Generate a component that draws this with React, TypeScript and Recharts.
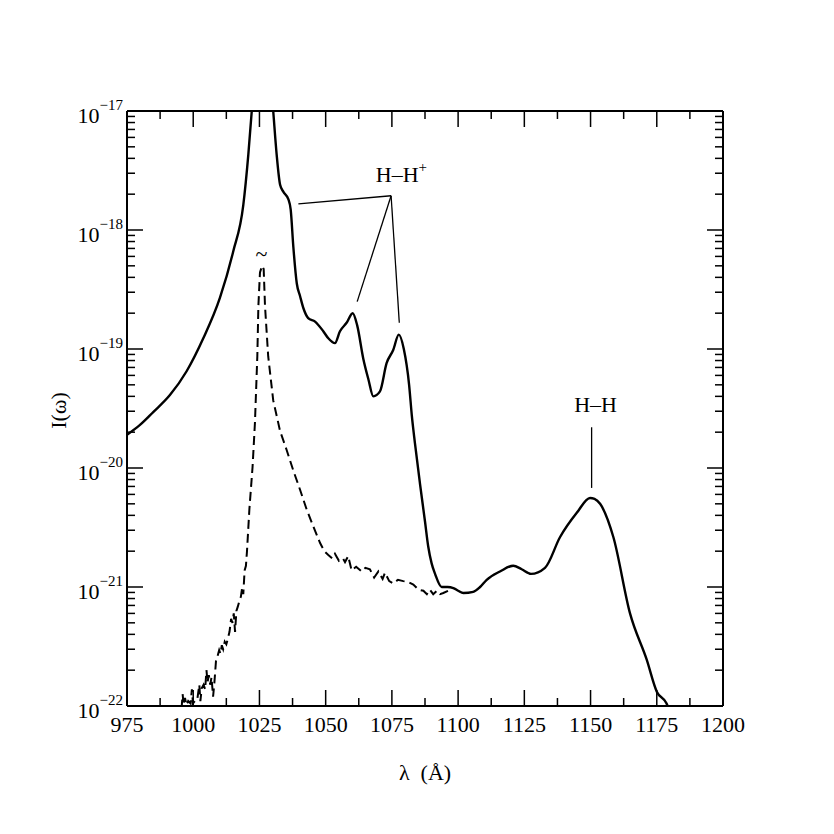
import React from 'react';
import { LineChart, Line, XAxis, YAxis, ReferenceLine, ReferenceDot } from 'recharts';

// ---- data ----
const solidX = [975, 979.9, 984.9, 991.2, 997.5, 1003.8, 1010.1, 1015.1, 1018.9, 1020.8, 1022.1, 1023.5, 1026, 1028.5, 1030.2, 1031.5, 1032.8, 1034.0, 1035.9, 1036.8, 1037.8, 1039.1, 1040.3, 1041.6, 1043.4, 1046.0, 1049.1, 1051.0, 1053.5, 1055.4, 1057.9, 1060.2, 1061.9, 1064.2, 1066.1, 1068.0, 1070.5, 1073.0, 1075.5, 1077.6, 1079.5, 1081.5, 1082.5, 1083.7, 1085.6, 1087.5, 1088.7, 1090.0, 1091.3, 1093.8, 1096, 1098.2, 1100, 1102.0, 1105.7, 1108.3, 1110.8, 1115.8, 1120.8, 1124, 1127.5, 1132.8, 1138.5, 1144.8, 1149.8, 1151.5, 1153.6, 1158.6, 1164.9, 1171.2, 1175.0, 1178.7, 1179.5];
const solidY = [1.9e-20, 2.3e-20, 2.95e-20, 4.1e-20, 6.5e-20, 1.23e-19, 2.7e-19, 6.6e-19, 1.62e-18, 4.3e-18, 1.0e-17, 3e-17, 8e-17, 3e-17, 1.0e-17, 4.3e-18, 2.4e-18, 2.1e-18, 1.82e-18, 1.48e-18, 7.2e-19, 3.55e-19, 2.8e-19, 2.2e-19, 1.82e-19, 1.7e-19, 1.41e-19, 1.23e-19, 1.12e-19, 1.41e-19, 1.66e-19, 2.0e-19, 1.58e-19, 8.3e-20, 5.6e-20, 4.0e-20, 4.4e-20, 7.6e-20, 9.8e-20, 1.32e-19, 1.0e-19, 5.0e-20, 2.8e-20, 1.62e-20, 7.4e-21, 3.55e-21, 2.2e-21, 1.58e-21, 1.29e-21, 1.0e-21, 1.0e-21, 9.8e-22, 9.3e-22, 8.9e-22, 9.1e-22, 1.0e-21, 1.15e-21, 1.35e-21, 1.51e-21, 1.41e-21, 1.29e-21, 1.45e-21, 2.63e-21, 4.2e-21, 5.6e-21, 5.5e-21, 5.0e-21, 2.63e-21, 6.0e-22, 2.45e-22, 1.32e-22, 1.05e-22, 9.5e-23];

const dashedX = [995.6, 996.0, 996.4, 996.9, 997.4, 998.1, 999.0, 999.5, 999.9, 1000.6, 1001.5, 1002.3, 1002.7, 1003.2, 1003.9, 1004.5, 1005.0, 1005.4, 1005.9, 1006.4, 1006.9, 1007.5, 1008.0, 1008.6, 1009.2, 1009.8, 1010.3, 1010.8, 1011.3, 1011.9, 1012.5, 1013.1, 1013.7, 1014.3, 1014.8, 1015.3, 1015.8, 1016.3, 1016.8, 1017.4, 1018.0, 1018.5, 1018.9, 1019.4, 1019.9, 1020.3, 1021.2, 1022.4, 1023.3, 1024.2, 1024.6, 1025.2, 1026.0, 1026.6, 1027.1, 1028.3, 1030.2, 1032.8, 1035.3, 1037.8, 1040.3, 1042.8, 1045.3, 1047.9, 1049.5, 1051.0, 1052.5, 1053.5, 1055.0, 1056.5, 1057.3, 1058.5, 1059.8, 1061.5, 1063.6, 1065.0, 1066.7, 1068.3, 1069.9, 1071.5, 1072.4, 1074.0, 1075.5, 1077.3, 1079.3, 1081.2, 1083.1, 1085.0, 1086.9, 1088.2, 1089.3, 1090.6, 1092.0, 1093.2, 1094.4, 1096.3];
const dashedY = [9.5e-23, 1.26e-22, 1.02e-22, 1.17e-22, 1.02e-22, 1.1e-22, 1.05e-22, 1.38e-22, 1.05e-22, 1.1e-22, 1.12e-22, 1.51e-22, 1.1e-22, 1.41e-22, 1.51e-22, 1.38e-22, 2.0e-22, 1.58e-22, 1.82e-22, 1.51e-22, 1.74e-22, 1.2e-22, 1.58e-22, 2.4e-22, 2.63e-22, 2.95e-22, 2.75e-22, 3.24e-22, 3.0e-22, 3.47e-22, 3.3e-22, 3.7e-22, 4.2e-22, 5.4e-22, 5.0e-22, 6.0e-22, 4.2e-22, 6.3e-22, 6.8e-22, 7.6e-22, 8.3e-22, 1.0e-21, 8.7e-22, 1.38e-21, 1.51e-21, 2.0e-21, 4.5e-21, 1.02e-20, 2.4e-20, 8.7e-20, 2.3e-19, 4.4e-19, 5.0e-19, 4.7e-19, 2.3e-19, 8.7e-20, 3.7e-20, 2.04e-20, 1.41e-20, 9.5e-21, 6.6e-21, 4.5e-21, 3.24e-21, 2.34e-21, 2.0e-21, 1.86e-21, 1.74e-21, 1.9e-21, 1.66e-21, 1.74e-21, 1.62e-21, 1.82e-21, 1.38e-21, 1.48e-21, 1.35e-21, 1.45e-21, 1.41e-21, 1.2e-21, 1.35e-21, 1.17e-21, 1.32e-21, 1.12e-21, 1.07e-21, 1.15e-21, 1.12e-21, 1.1e-21, 1.05e-21, 9.5e-22, 9.3e-22, 8.7e-22, 9.5e-22, 8.7e-22, 9.3e-22, 8.7e-22, 8.9e-22, 9.3e-22];

const xTicks = [975, 987.5, 1000, 1012.5, 1025, 1037.5, 1050, 1062.5, 1075, 1087.5, 1100, 1112.5, 1125, 1137.5, 1150, 1162.5, 1175, 1187.5, 1200];
const xMajorTicks = [975, 1000, 1025, 1050, 1075, 1100, 1125, 1150, 1175, 1200];
const yMajorTicks = [1e-22, 1e-21, 1e-20, 1e-19, 1e-18, 1e-17];
const yMajorLabels = ['−22', '−21', '−20', '−19', '−18', '−17'];
const yMinorMultipliers = [2, 3, 4, 5, 6, 7, 8, 9];

// annotations (data coordinates)
const hhPlusApex = { x: 1074.7, y: 1.94e-18 };
const hhPlusTargets = [
  { x: 1039.7, y: 1.66e-18 },
  { x: 1061.9, y: 2.5e-19 },
  { x: 1077.8, y: 1.66e-19 },
];
const hhPlusLabel = { x: 1078.6, y: 2.55e-18, text: 'H–H', sup: '+' };
const hhLine = [{ x: 1150.4, y: 2.2e-20 }, { x: 1150.4, y: 6.8e-21 }];
const hhLabel = { x: 1151.9, y: 2.96e-20, text: 'H–H' };
const tildeLabel = { x: 1025.8, y: 6.3e-19, text: '~' };

const solidData = solidX.map((x, i) => ({ x, y: solidY[i] }));
const dashedData = dashedX.map((x, i) => ({ x, y: dashedY[i] }));
const yTicks: number[] = [];
yMajorTicks.forEach((m, i) => {
  yTicks.push(m);
  if (i < yMajorTicks.length - 1) yMinorMultipliers.forEach((k) => yTicks.push(k * m));
});

const FONT = "'Liberation Serif', 'DejaVu Serif', serif";
const isYMajor = (v: number) => yMajorTicks.some((m) => Math.abs(v / m - 1) < 1e-6);

const YTickLeft = (props: any) => {
  const { x, y, payload } = props;
  const idx = yMajorTicks.findIndex((m) => Math.abs(payload.value / m - 1) < 1e-6);
  const major = idx >= 0;
  return (
    <g>
      <line x1={x} y1={y} x2={x + (major ? 16 : 8)} y2={y} stroke="#000" strokeWidth={1.5} />
      {major && (
        <text x={x - 4} y={y + 12} textAnchor="end" fontFamily={FONT} fontSize={22} fill="#000">
          10<tspan dy={-13} fontSize={15}>{yMajorLabels[idx]}</tspan>
        </text>
      )}
    </g>
  );
};
const YTickRight = (props: any) => {
  const { x, y, payload } = props;
  const major = isYMajor(payload.value);
  return <line x1={x} y1={y} x2={x - (major ? 16 : 8)} y2={y} stroke="#000" strokeWidth={1.5} />;
};
const XTickBottom = (props: any) => {
  const { x, y, payload } = props;
  const major = xMajorTicks.includes(payload.value);
  return (
    <g>
      <line x1={x} y1={y} x2={x} y2={y - (major ? 16 : 8)} stroke="#000" strokeWidth={1.5} />
      {major && (
        <text x={x} y={y + 26} textAnchor="middle" fontFamily={FONT} fontSize={22} fill="#000">
          {payload.value}
        </text>
      )}
    </g>
  );
};
const XTickTop = (props: any) => {
  const { x, y, payload } = props;
  const major = xMajorTicks.includes(payload.value);
  return <line x1={x} y1={y} x2={x} y2={y + (major ? 16 : 8)} stroke="#000" strokeWidth={1.5} />;
};

const textShape = (text: string, sup?: string, central?: boolean) => (p: any) => (
  <text x={p.cx} y={p.cy} textAnchor="middle" dominantBaseline={central ? 'central' : 'auto'} fontFamily={FONT} fontSize={22} fill="#000">
    {text}
    {sup && <tspan dy={-10} fontSize={15}>{sup}</tspan>}
  </text>
);

export default function App() {
  return (
    <div style={{ width: 826, height: 826, background: '#fff' }}>
      <LineChart width={826} height={826} margin={{ top: 93, left: 39, right: 101, bottom: 48 }}>
        <XAxis
          dataKey="x"
          type="number"
          domain={[975, 1200]}
          ticks={xTicks}
          interval={0}
          height={80}
          tickSize={0}
          tickMargin={0}
          tickLine={false}
          axisLine={{ stroke: '#000', strokeWidth: 2 }}
          tick={<XTickBottom />}
          allowDataOverflow
          label={{
            content: (p: any) => (
              <text x={p.viewBox.x + p.viewBox.width / 2} y={p.viewBox.y + 74} textAnchor="middle" fontFamily={FONT} fontSize={22} fill="#000">
                {'λ\u00A0\u00A0(Å)'}
              </text>
            ),
          }}
        />
        <XAxis
          xAxisId="top"
          orientation="top"
          dataKey="x"
          type="number"
          domain={[975, 1200]}
          ticks={xTicks}
          interval={0}
          height={10}
          tickSize={0}
          tickMargin={0}
          tickLine={false}
          axisLine={{ stroke: '#000', strokeWidth: 2 }}
          tick={<XTickTop />}
          allowDataOverflow
        />
        <YAxis
          type="number"
          scale="log"
          domain={[1e-22, 1e-17]}
          ticks={yTicks}
          interval={0}
          width={80}
          tickSize={0}
          tickMargin={0}
          tickLine={false}
          axisLine={{ stroke: '#000', strokeWidth: 2 }}
          tick={<YTickLeft />}
          allowDataOverflow
          label={{
            content: (p: any) => {
              const cx = p.viewBox.x + 11;
              const cy = p.viewBox.y + p.viewBox.height / 2 + 2;
              return (
                <text x={cx} y={cy} transform={`rotate(-90 ${cx} ${cy})`} textAnchor="middle" dominantBaseline="central" fontFamily={FONT} fontSize={22} fill="#000">
                  I(ω)
                </text>
              );
            },
          }}
        />
        <YAxis
          yAxisId="right"
          orientation="right"
          type="number"
          scale="log"
          domain={[1e-22, 1e-17]}
          ticks={yTicks}
          interval={0}
          width={10}
          tickSize={0}
          tickMargin={0}
          tickLine={false}
          axisLine={{ stroke: '#000', strokeWidth: 2 }}
          tick={<YTickRight />}
          allowDataOverflow
        />
        <Line data={dashedData} dataKey="y" type="linear" stroke="#000" strokeWidth={2} strokeDasharray="9 5" dot={false} isAnimationActive={false} />
        <Line data={solidData} dataKey="y" type="monotone" stroke="#000" strokeWidth={2.4} dot={false} isAnimationActive={false} />
        {hhPlusTargets.map((t, i) => (
          <ReferenceLine key={i} segment={[hhPlusApex, t]} stroke="#000" strokeWidth={1.3} ifOverflow="visible" />
        ))}
        <ReferenceLine segment={hhLine} stroke="#000" strokeWidth={1.3} ifOverflow="visible" />
        <ReferenceDot x={hhPlusLabel.x} y={hhPlusLabel.y} r={0} ifOverflow="visible" shape={textShape(hhPlusLabel.text, hhPlusLabel.sup)} />
        <ReferenceDot x={hhLabel.x} y={hhLabel.y} r={0} ifOverflow="visible" shape={textShape(hhLabel.text)} />
        <ReferenceDot x={tildeLabel.x} y={tildeLabel.y} r={0} ifOverflow="visible" shape={textShape(tildeLabel.text, undefined, true)} />
      </LineChart>
    </div>
  );
}
